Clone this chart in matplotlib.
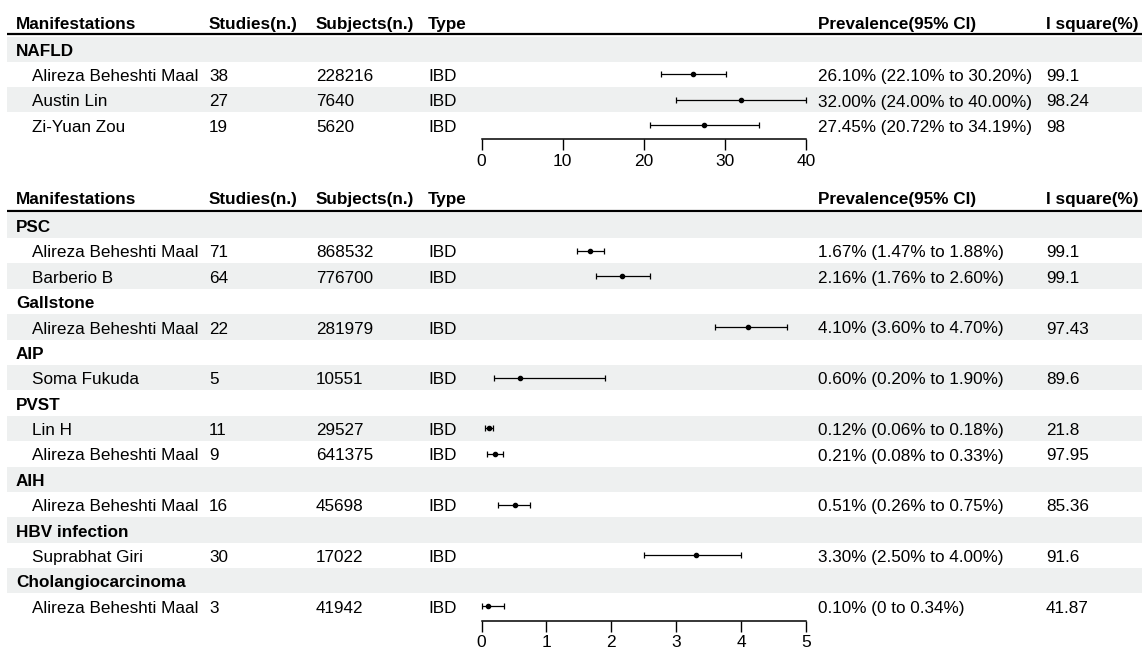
import matplotlib
matplotlib.use("Agg")
import matplotlib.pyplot as plt
from matplotlib.patches import Rectangle

plt.rcParams['font.family'] = ['Liberation Sans', 'DejaVu Sans']

# column headers
headers = ["Manifestations", "Studies(n.)", "Subjects(n.)", "Type", "Prevalence(95% CI)", "I square(%)"]

# top panel (NAFLD, axis 0-40)
top_group = ["NAFLD", "NAFLD", "NAFLD"]
top_author = ["Alireza Beheshti Maal", "Austin Lin", "Zi-Yuan Zou"]
top_studies = [38, 27, 19]
top_subjects = [228216, 7640, 5620]
top_type = ["IBD", "IBD", "IBD"]
top_est = [26.10, 32.00, 27.45]
top_lo = [22.10, 24.00, 20.72]
top_hi = [30.20, 40.00, 34.19]
top_prev = ["26.10% (22.10% to 30.20%)", "32.00% (24.00% to 40.00%)", "27.45% (20.72% to 34.19%)"]
top_i2 = ["99.1", "98.24", "98"]
top_ticks = [0, 10, 20, 30, 40]

# bottom panel (axis 0-5)
bot_group = ["PSC", "PSC", "Gallstone", "AIP", "PVST", "PVST", "AIH", "HBV infection", "Cholangiocarcinoma"]
bot_author = ["Alireza Beheshti Maal", "Barberio B", "Alireza Beheshti Maal", "Soma Fukuda", "Lin H",
              "Alireza Beheshti Maal", "Alireza Beheshti Maal", "Suprabhat Giri", "Alireza Beheshti Maal"]
bot_studies = [71, 64, 22, 5, 11, 9, 16, 30, 3]
bot_subjects = [868532, 776700, 281979, 10551, 29527, 641375, 45698, 17022, 41942]
bot_type = ["IBD"] * 9
bot_est = [1.67, 2.16, 4.10, 0.60, 0.12, 0.21, 0.51, 3.30, 0.10]
bot_lo = [1.47, 1.76, 3.60, 0.20, 0.06, 0.08, 0.26, 2.50, 0.0]
bot_hi = [1.88, 2.60, 4.70, 1.90, 0.18, 0.33, 0.75, 4.00, 0.34]
bot_prev = ["1.67% (1.47% to 1.88%)", "2.16% (1.76% to 2.60%)", "4.10% (3.60% to 4.70%)",
            "0.60% (0.20% to 1.90%)", "0.12% (0.06% to 0.18%)", "0.21% (0.08% to 0.33%)",
            "0.51% (0.26% to 0.75%)", "3.30% (2.50% to 4.00%)", "0.10% (0 to 0.34%)"]
bot_i2 = ["99.1", "99.1", "97.43", "89.6", "21.8", "97.95", "85.36", "91.6", "41.87"]
bot_ticks = [0, 1, 2, 3, 4, 5]

W, H = 1142, 651
col_x = [16, 209, 316, 428, 818, 1046]
name_x = 32
FS = 12.3
SHADE = "#eef0f0"

fig = plt.figure(figsize=(W / 100, H / 100), dpi=100)
bg = fig.add_axes([0, 0, 1, 1])
bg.set_xlim(0, W)
bg.set_ylim(H, 0)
bg.axis("off")


def panel(group, author, studies, subjects, types, est, lo, hi, prev, i2, ticks,
          head_y, line_y, row_top, row_h, axis_y, fx0=481.5, fx1=806):
    # header
    for x, h in zip(col_x, headers):
        bg.text(x, head_y, h, fontsize=FS, fontweight="bold", va="baseline", ha="left")
    bg.plot([7, W], [line_y, line_y], color="black", lw=1.6, solid_capstyle="butt")

    # build rows: group heading + study rows
    rows = []
    prev_g = None
    for k in range(len(group)):
        if group[k] != prev_g:
            rows.append(("g", k))
            prev_g = group[k]
        rows.append(("s", k))

    ys, ks = [], []
    for i, (kind, k) in enumerate(rows):
        top = row_top + i * row_h
        if i % 2 == 0:
            bg.add_patch(Rectangle((7, top), W - 7, row_h, color=SHADE, lw=0, zorder=0))
        base = top + 19.4
        if kind == "g":
            bg.text(col_x[0], base, group[k], fontsize=FS, fontweight="bold", va="baseline")
        else:
            bg.text(name_x, base, author[k], fontsize=FS, va="baseline")
            bg.text(col_x[1], base, str(studies[k]), fontsize=FS, va="baseline")
            bg.text(col_x[2], base, str(subjects[k]), fontsize=FS, va="baseline")
            bg.text(col_x[3], base, types[k], fontsize=FS, va="baseline")
            bg.text(col_x[4], base, prev[k], fontsize=FS, va="baseline")
            bg.text(col_x[5], base, i2[k], fontsize=FS, va="baseline")
            ys.append(i)
            ks.append(k)

    # forest axes
    ax = fig.add_axes([fx0 / W, 1 - axis_y / H, (fx1 - fx0) / W, (axis_y - row_top) / H])
    ax.patch.set_alpha(0)
    e = [est[k] for k in ks]
    l = [est[k] - lo[k] for k in ks]
    u = [hi[k] - est[k] for k in ks]
    ax.errorbar(e, ys, xerr=[l, u], fmt="o", color="black", ms=3.0, elinewidth=0.9,
                capsize=2.3, capthick=0.9, clip_on=False)
    ax.set_xlim(ticks[0], ticks[-1])
    ax.set_ylim((axis_y - row_top) / row_h - 0.5, -0.5)
    for s in ["left", "right", "top"]:
        ax.spines[s].set_visible(False)
    ax.spines["bottom"].set_linewidth(1.1)
    ax.set_yticks([])
    ax.set_xticks(ticks)
    ax.tick_params(axis="x", direction="out", length=8, width=1.0, labelsize=12.5, pad=2.5)


panel(top_group, top_author, top_studies, top_subjects, top_type, top_est, top_lo, top_hi,
      top_prev, top_i2, top_ticks, head_y=29.3, line_y=34, row_top=36.5, row_h=25.3, axis_y=139.3)
panel(bot_group, bot_author, bot_studies, bot_subjects, bot_type, bot_est, bot_lo, bot_hi,
      bot_prev, bot_i2, bot_ticks, head_y=204, line_y=210.7, row_top=212.5, row_h=25.4, axis_y=620.5)

fig.savefig("out.png", dpi=100)
